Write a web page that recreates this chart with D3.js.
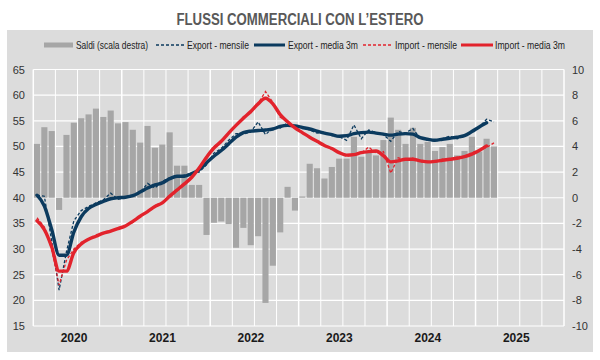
<!DOCTYPE html>
<html>
<head>
<meta charset="utf-8">
<script src="https://cdn.jsdelivr.net/npm/d3@7"></script>
<style>
  html, body { margin: 0; padding: 0; background: #ffffff; }
  svg { display: block; }
  text { font-family: "Liberation Sans Narrow", "Arial Narrow", "Liberation Sans", Arial, sans-serif; }
</style>
</head>
<body>
<svg id="chart" width="600" height="360"></svg>
<script>
// ---------------- DATA ----------------
const years = [2020, 2021, 2022, 2023, 2024, 2025];
const months = years.flatMap(y => d3.range(1, 13).map(m => y + "-" + String(m).padStart(2, "0")));

// Saldi (scala destra), mld euro, Jan 2020 – Mar 2025
const saldi = [4.2, 5.5, 5.2, -0.95, 4.9, 5.85, 6.2, 6.5, 6.95, 6.3, 6.8, 5.8,
  5.9, 5.3, 4.3, 5.6, 3.9, 4.15, 5.1, 2.5, 2.5, 1.0, 1.0, -2.9,
  -1.95, -1.85, -2.05, -3.9, -2.35, -3.7, -3.0, -8.2, -5.3, -2.7, 0.85, -1.0,
  0.1, 2.65, 2.3, 1.5, 2.4, 3.05, 3.05, 4.75, 3.2, 3.55, 3.3, 4.5,
  6.25, 5.3, 4.2, 5.45, 4.2, 4.35, 3.65, 3.95, 4.2, 3.3, 3.65, 4.75,
  3.6, 4.6, 4.0];

const exportMensile = [40.5, 40.3, 31.5, 22.0, 29.5, 35.5, 37.5, 38.3, 39.0, 39.6, 40.9, 39.7,
  40.0, 40.3, 41.0, 42.8, 41.9, 43.2, 43.9, 44.0, 44.4, 44.8, 45.0, 46.4,
  48.7, 49.6, 51.2, 52.5, 52.4, 52.8, 54.8, 52.3, 53.6, 53.6, 54.6, 53.9,
  53.7, 53.2, 52.6, 52.8, 52.1, 51.9, 51.2, 54.2, 51.5, 53.2, 52.7, 52.3,
  51.0, 52.9, 52.6, 53.5, 51.5, 51.3, 51.0, 51.5, 52.0, 51.5, 52.0, 53.0,
  53.8, 55.3, 54.8];

const exportMedia3m = [40.5, 38.4, 33.8, 28.8, 28.8, 33.3, 36.3, 37.9, 38.7, 39.3, 39.8, 40.0,
  40.1, 40.4, 41.1, 41.9, 42.5, 42.9, 43.7, 44.2, 44.2, 44.7, 45.5, 46.8,
  48.1, 49.2, 50.5, 51.8, 52.7, 53.0, 53.1, 53.2, 53.4, 53.9, 54.1, 54.0,
  53.7, 53.4, 53.0, 52.6, 52.3, 52.0, 52.1, 52.5, 52.7, 52.8, 52.6, 52.4,
  52.2, 52.4, 52.5, 52.4, 51.7, 51.4, 51.2, 51.4, 51.6, 51.8, 52.1, 52.9,
  53.8, 54.6];

const importMensile = [36.1, 34.3, 30.0, 23.0, 27.8, 30.0, 31.3, 32.0, 32.6, 33.0, 33.6, 34.0,
  34.6, 35.2, 36.5, 37.2, 38.5, 39.0, 40.5, 41.3, 42.8, 44.0, 45.9, 47.6,
  50.0, 50.9, 52.8, 54.0, 55.8, 56.5, 58.4, 60.7, 58.6, 55.7, 54.9, 53.4,
  52.8, 51.7, 50.9, 50.3, 49.4, 48.9, 48.0, 48.6, 48.7, 49.9, 48.7, 49.0,
  44.8, 47.8, 47.4, 47.7, 47.0, 47.1, 46.9, 47.5, 47.4, 47.9, 47.8, 48.8,
  49.3, 49.8, 50.7];

const importMedia3m = [35.5, 33.8, 30.4, 25.7, 25.7, 29.3, 31.0, 31.9, 32.5, 33.1, 33.5, 34.0,
  34.5, 35.4, 36.4, 37.3, 38.3, 39.0, 40.3, 41.5, 42.7, 44.0, 45.8, 47.9,
  49.7, 51.0, 52.6, 54.1, 55.5, 56.8, 58.3, 59.4, 58.3, 56.2, 54.8, 53.6,
  52.7, 51.8, 51.0, 50.2, 49.6, 48.8, 48.3, 48.4, 48.8, 49.0, 49.1, 48.2,
  47.0, 47.2, 47.5, 47.5, 47.2, 47.0, 47.1, 47.3, 47.5, 47.7, 48.0, 48.5,
  49.2, 50.1];

const leftTicks = [15, 20, 25, 30, 35, 40, 45, 50, 55, 60, 65];
const rightTicks = [-10, -8, -6, -4, -2, 0, 2, 4, 6, 8, 10];
const yearLabels = ["2020", "2021", "2022", "2023", "2024", "2025"];
const legendLabels = ["Saldi (scala destra)", "Export - mensile", "Export - media 3m", "Import - mensile", "Import - media 3m"];
const titleText = "FLUSSI COMMERCIALI CON L\u2019ESTERO";

// ---------------- LAYOUT ----------------
const W = 600, H = 360;
const plot = { left: 33.3, right: 564, top: 69.5, bottom: 326 };
const colNavy = "#0b3a5e", colRed = "#e2232c", colBar = "#a6a6a6", colBg = "#dcdcdc";

const svg = d3.select("#chart");
svg.append("rect").attr("x", 0).attr("y", 0).attr("width", W).attr("height", H).attr("fill", "#ffffff");
svg.append("rect").attr("x", 7).attr("y", 30).attr("width", 586).attr("height", 322).attr("fill", colBg);

// title
svg.append("text").attr("x", 300).attr("y", 25).attr("text-anchor", "middle")
  .attr("font-size", 16).attr("font-weight", "bold").attr("fill", "#595959")
  .attr("textLength", 247).attr("lengthAdjust", "spacingAndGlyphs")
  .text(titleText);

// scales
const xMonth = d3.scaleBand().domain(months).range([plot.left, plot.right]).padding(0);
const xBar = d3.scaleBand().domain(months).range([plot.left, plot.right]).paddingInner(0.17).paddingOuter(0.085);
const yL = d3.scaleLinear().domain([15, 65]).range([plot.bottom, plot.top]);
const yR = d3.scaleLinear().domain([-10, 10]).range([plot.bottom, plot.top]);
const cx = i => xMonth(months[i]) + xMonth.bandwidth() / 2;

// gridlines
const grid = svg.append("g");
grid.selectAll("line.h").data(leftTicks).join("line")
  .attr("x1", plot.left).attr("x2", plot.right)
  .attr("y1", d => yL(d)).attr("y2", d => yL(d))
  .attr("stroke", "#ffffff").attr("stroke-width", 1.2);
const qIdx = d3.range(0, 73, 3);
grid.selectAll("line.v").data(qIdx).join("line")
  .attr("x1", d => d < 72 ? xMonth(months[d]) : plot.right)
  .attr("x2", d => d < 72 ? xMonth(months[d]) : plot.right)
  .attr("y1", plot.top).attr("y2", plot.bottom)
  .attr("stroke", "#ffffff").attr("stroke-width", d => d % 12 === 0 ? 1.5 : 1);

// bars
svg.append("g").selectAll("rect").data(saldi).join("rect")
  .attr("x", (d, i) => xBar(months[i]))
  .attr("width", xBar.bandwidth())
  .attr("y", d => yR(Math.max(0, d)))
  .attr("height", d => Math.abs(yR(d) - yR(0)))
  .attr("fill", colBar);

// lines
const lineLin = d3.line().x((d, i) => cx(i)).y(d => yL(d));
const lineSmooth = d3.line().x((d, i) => cx(i)).y(d => yL(d)).curve(d3.curveMonotoneX);

svg.append("path").datum(exportMensile).attr("d", lineLin)
  .attr("fill", "none").attr("stroke", colNavy).attr("stroke-width", 1.3).attr("stroke-dasharray", "3,2");
svg.append("path").datum(importMensile).attr("d", lineLin)
  .attr("fill", "none").attr("stroke", colRed).attr("stroke-width", 1.3).attr("stroke-dasharray", "3,2");
svg.append("path").datum(exportMedia3m).attr("d", lineSmooth)
  .attr("fill", "none").attr("stroke", colNavy).attr("stroke-width", 3.4).attr("stroke-linejoin", "round").attr("stroke-linecap", "round");
svg.append("path").datum(importMedia3m).attr("d", lineSmooth)
  .attr("fill", "none").attr("stroke", colRed).attr("stroke-width", 3.4).attr("stroke-linejoin", "round").attr("stroke-linecap", "round");

// axes labels
svg.append("g").selectAll("text").data(leftTicks).join("text")
  .attr("x", 25).attr("y", d => yL(d) + 4).attr("text-anchor", "end")
  .attr("font-size", 11).attr("fill", "#333333").text(d => d);
svg.append("g").selectAll("text").data(rightTicks).join("text")
  .attr("x", 572).attr("y", d => yR(d) + 4).attr("text-anchor", "start")
  .attr("font-size", 11).attr("fill", "#333333").text(d => d);
svg.append("g").selectAll("text").data(yearLabels).join("text")
  .attr("x", (d, i) => xMonth(months[i * 12 + 6]) - 3.5).attr("y", 341.5).attr("text-anchor", "middle")
  .attr("font-size", 12).attr("font-weight", "bold").attr("fill", "#1a1a1a").text(d => d);

// legend
const ly = 45;
const leg = svg.append("g");
const items = [
  { type: "bar", x0: 44, x1: 73, tx: 76, tw: 72 },
  { type: "dash", color: colNavy, x0: 156, x1: 185, tx: 187, tw: 62 },
  { type: "solid", color: colNavy, x0: 254, x1: 285, tx: 288, tw: 70 },
  { type: "dash", color: colRed, x0: 363, x1: 392, tx: 395, tw: 62 },
  { type: "solid", color: colRed, x0: 461, x1: 493, tx: 495, tw: 70 }
];
items.forEach((it, k) => {
  if (it.type === "bar") {
    leg.append("rect").attr("x", it.x0).attr("y", ly - 2.5).attr("width", it.x1 - it.x0).attr("height", 5).attr("fill", colBar);
  } else {
    leg.append("line").attr("x1", it.x0).attr("x2", it.x1).attr("y1", ly).attr("y2", ly)
      .attr("stroke", it.color)
      .attr("stroke-width", it.type === "solid" ? 3 : 1.3)
      .attr("stroke-dasharray", it.type === "dash" ? "3,2" : null);
  }
  leg.append("text").attr("x", it.tx).attr("y", ly + 4).attr("font-size", 11.5).attr("fill", "#222222")
    .attr("textLength", it.tw).attr("lengthAdjust", "spacingAndGlyphs").text(legendLabels[k]);
});
</script>
</body>
</html>
